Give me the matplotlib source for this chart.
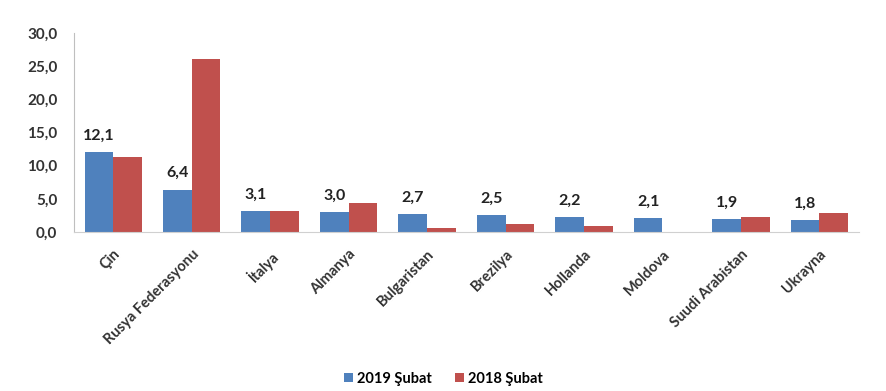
import numpy as np
import matplotlib
matplotlib.use('Agg')
import matplotlib.pyplot as plt
from matplotlib.ticker import FuncFormatter, MultipleLocator

countries = ['Çin', 'Rusya Federasyonu', 'İtalya', 'Almanya', 'Bulgaristan',
             'Brezilya', 'Hollanda', 'Moldova', 'Suudi Arabistan', 'Ukrayna']
feb_2019 = [12.1, 6.4, 3.1, 3.0, 2.7, 2.5, 2.2, 2.1, 1.9, 1.8]
feb_2018 = [11.3, 26.1, 3.1, 4.4, 0.6, 1.2, 0.9, 0.0, 2.3, 2.9]
series_names = ['2019 Şubat', '2018 Şubat']

plt.rcParams['font.family'] = ['Lato', 'DejaVu Sans']

fig = plt.figure(figsize=(8.87, 3.91), dpi=100)
ax = fig.add_axes([0.0834, 0.4066, 0.8846, 0.509])

x = np.arange(len(countries))
w = 0.365
b1 = ax.bar(x - w / 2, feb_2019, w, color='#4F81BD', label=series_names[0])
b2 = ax.bar(x + w / 2, feb_2018, w, color='#C0504D', label=series_names[1])

for xi, v in zip(x, feb_2019):
    ax.text(xi - w / 2, v + 1.4, f'{v:.1f}'.replace('.', ','), ha='center', va='bottom',
            fontsize=11.5, fontweight='bold', color='#222222')

ax.set_xlim(-0.5, len(countries) - 0.5)
ax.set_ylim(0, 30)
ax.yaxis.set_major_locator(MultipleLocator(5))
ax.yaxis.set_major_formatter(FuncFormatter(lambda v, p: f'{v:.1f}'.replace('.', ',')))
ax.set_xticks(x)
ax.set_xticklabels(countries, rotation=45, ha='right', rotation_mode='anchor',
                   fontsize=10.5, fontweight='bold', color='#333333')
for lab in ax.get_yticklabels():
    lab.set_fontweight('bold')
    lab.set_fontsize(11)
    lab.set_color('#333333')
ax.tick_params(axis='both', length=0)
ax.tick_params(axis='y', pad=12)
ax.tick_params(axis='x', pad=11)

for s in ['top', 'right']:
    ax.spines[s].set_visible(False)
ax.spines['left'].set_color('#BFBFBF')
ax.spines['bottom'].set_color('#D0D0D0')

fig.legend(handles=[b1, b2], loc='lower center', bbox_to_anchor=(0.5, -0.02), ncol=2,
           frameon=False, prop={'weight': 'bold', 'size': 10.5}, handlelength=0.6,
           handleheight=0.6, handletextpad=0.3, columnspacing=1.6)

fig.savefig('out.png', dpi=100)
